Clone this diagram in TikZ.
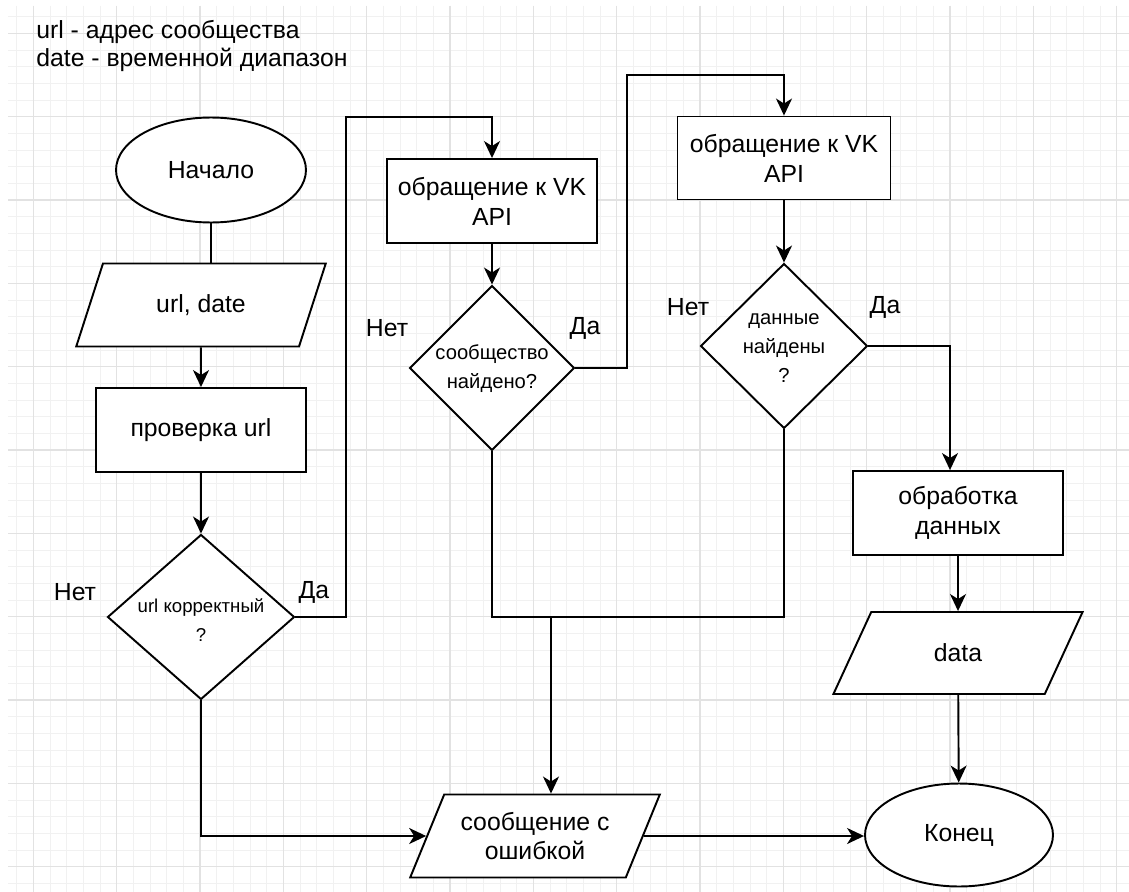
\documentclass[tikz,border=0pt]{standalone}
\usepackage{fontspec}
\setmainfont{Liberation Sans}
\usetikzlibrary{shapes.geometric,arrows.meta}
\definecolor{gridmajor}{RGB}{226,226,226}
\definecolor{gridminor}{RGB}{241,241,241}

\begin{document}
\begin{tikzpicture}[x=0.02cm,y=-0.02cm,
    every node/.style={font=\fontsize{14.1}{17}\selectfont},
    block/.style={draw, line width=1.1pt, fill=white, align=center, inner sep=0pt},
    terminal/.style={block, ellipse, minimum width=3.8cm, minimum height=2.1cm},
    action/.style={block, rectangle, minimum width=4.2cm, minimum height=1.68cm},
    inout/.style={block, trapezium, trapezium left angle=60, trapezium right angle=120,
        trapezium stretches=true, minimum width=5cm, minimum height=1.66cm},
    decision/.style={block, diamond, minimum width=3.3cm, minimum height=3.3cm},
    dtext/.style={align=center, inner sep=0pt, font=\fontsize{11.5}{16.4}\selectfont},
    answer/.style={inner sep=0pt},
    link/.style={line width=1.1pt},
    arr/.style={link, -{Stealth[length=3.4mm,width=3.2mm,inset=1mm]}}]
    \useasboundingbox[fill=white] (0,0) rectangle (1129,892);
    % Сетка
    \foreach \i in {1,...,67}
    \draw[gridminor, line width=0.5pt] ({16.6667*\i},6) -- ({16.6667*\i},892);
    \foreach \j in {1,...,53}
    \draw[gridminor, line width=0.5pt] (8,{16.6667*\j}) -- (1129,{16.6667*\j});
    \foreach \i in {0,...,13}
    \draw[gridmajor, line width=0.8pt] ({33.3333+83.3333*\i},6) -- ({33.3333+83.3333*\i},892);
    \foreach \j in {0,...,10}
    \draw[gridmajor, line width=0.8pt] (8,{33.3333+83.3333*\j}) -- (1129,{33.3333+83.3333*\j});

    % Пояснение
    \node[anchor=west, align=left, inner sep=0pt, font=\fontsize{14.1}{15.9}\selectfont] (note) at (36,46)
        {url - адрес сообщества\\date - временной диапазон};

    % Блоки
    \node[terminal] (start) at (211,170) {Начало};
    \node[inout] (io1) at (201,305) {url, date};
    \node[action] (check) at (201,430) {проверка url};
    \node[decision, minimum width=3.74cm] (d1) at (201,617) {};
    \node[dtext, font=\fontsize{10.6}{16.4}\selectfont] (d1t) at (201,620) {url корректный\\?};
    \node[action] (api1) at (492,201) {обращение к VK\\API};
    \node[decision] (d2) at (492,368) {};
    \node[dtext] (d2t) at (492,369) {сообщество\\найдено?};
    \node[action, minimum width=4.26cm, minimum height=1.66cm] (api2) at (784,158) {обращение к VK\\API};
    \node[decision, minimum width=3.34cm] (d3) at (784,346) {};
    \node[dtext] (d3t) at (784,348) {данные\\найдены\\?};
    \node[action] (work) at (958,513) {обработка\\данных};
    \node[inout, minimum height=1.64cm] (io2) at (958,653) {data};
    \node[inout] (err) at (535,836) {сообщение с\\ошибкой};
    \node[terminal, minimum width=3.76cm, minimum height=2.06cm] (end) at (959,835) {Конец};

    % Подписи ветвей
    \node[answer] (no1) at (75,592) {Нет};
    \node[answer] (yes1) at (314,592) {Да};
    \node[answer] (no2) at (387,328) {Нет};
    \node[answer] (yes2) at (585,328) {Да};
    \node[answer] (no3) at (688,307) {Нет};
    \node[answer] (yes3) at (885,307) {Да};

    % Точки изгиба
    \coordinate (b1) at (346,117);
    \coordinate (b2) at (627,75);
    \coordinate (mrg) at (551,617);

    % Связи
    \draw[link] (start.south) -- (start.south |- io1.north);
    \draw[arr] (io1) -- (check);
    \draw[arr] (check) -- (d1);
    \draw[arr] (d1.east) -| (b1) -| (api1.north);
    \draw[arr] (api1) -- (d2);
    \draw[arr] (d2.east) -| (b2) -| (api2.north);
    \draw[arr] (api2) -- (d3);
    \draw[arr] (d3.east) -| ([xshift=-0.16cm]work.north);
    \draw[arr] (work) -- (io2);
    \draw[arr] (io2) -- (end);
    \draw[arr] (d1.south) |- (err.left side);
    \draw[link] (d2.south) |- (mrg) -| (d3.south);
    \draw[arr] (mrg) -- (mrg |- err.north);
    \draw[arr] (err.right side) -- (err.right side -| end.west);
\end{tikzpicture}
\end{document}
